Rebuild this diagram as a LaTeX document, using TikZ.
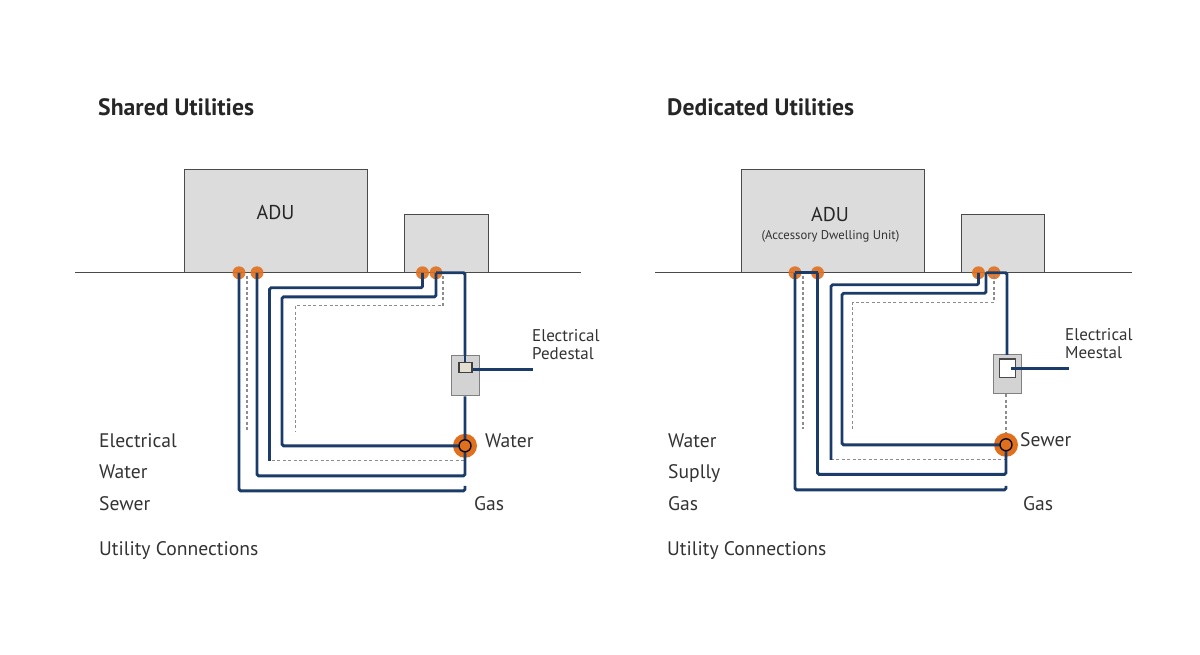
\documentclass[tikz,border=0pt]{standalone}
\usepackage{fontspec}
\setmainfont{PT Sans}
\definecolor{pipeblue}{HTML}{1B3C68}
\definecolor{portorange}{HTML}{E0701E}
\definecolor{boxgray}{HTML}{DCDCDC}
\definecolor{inkgray}{HTML}{4A4A4A}
\definecolor{meterbeige}{HTML}{E4DFD0}
\begin{document}
\begin{tikzpicture}[x=1pt,y=-1pt,
		building/.style={draw=inkgray,fill=boxgray,line width=1pt,inner sep=0pt},
		port/.style={circle,fill=portorange,inner sep=0pt,minimum size=13pt,opacity=0.9},
		junction/.style={circle,fill=portorange,inner sep=0pt,minimum size=24pt},
		ring/.style={circle,draw=black!80!pipeblue,fill=portorange,line width=1.4pt,inner sep=0pt,minimum size=12pt},
		pipe/.style={draw=pipeblue,line width=2.9pt,rounded corners=1.5pt},
		hidden/.style={draw=gray!90,line width=1.1pt,dash pattern=on 3pt off 2.4pt},
		ground/.style={draw=inkgray,line width=1pt},
		title/.style={font=\fontsize{23.7}{28}\selectfont\bfseries,anchor=base west,text=black!85,inner sep=0pt},
		label/.style={font=\fontsize{19.6}{22}\selectfont,anchor=base west,text=black!80,inner sep=0pt},
		small/.style={font=\fontsize{17}{18}\selectfont,align=left,anchor=west,text=black!80,inner sep=0pt}]
		\useasboundingbox (0,-0.8) rectangle (1200,654.2);
		% left panel: shared
		\node[title] (ltitle) at (98,115) {Shared Utilities};
		\coordinate (lg1) at (75,272);
		\coordinate (lg2) at (581,272);
		\node[building,minimum width=183pt,minimum height=103pt] (ladu) at (275.5,220.5) {};
		\node[building,minimum width=84pt,minimum height=58pt] (lhouse) at (446,243) {};
		\draw[ground] (lg1) -- (lg2);
		\node[font=\fontsize{20}{22}\selectfont,text=black!85] (laduname) at (275.5,212) {ADU};
		\foreach \x [count=\p] in {239,257,422.5,436} {
			\node[port] (lp\p) at (\x,272) {};
		};
		\node[building,draw=gray,fill=boxgray!90!gray,minimum width=27.5pt,minimum height=40pt] (lped) at (465.5,375) {};
		\node[junction] (ljoin) at (465,445) {};
		% hidden runs
		\coordinate (ld1) at (247,275);
		\coordinate (ld2) at (247,430);
		\coordinate (ld3) at (443,275);
		\coordinate (ld4) at (295.5,305);
		\coordinate (ld5) at (295.5,430);
		\coordinate (ld6) at (272,460);
		\draw[hidden] (ld1) -- (ld2);
		\draw[hidden] (ld3) |- (ld4) -- (ld5);
		\draw[hidden] (ld6) -- (ljoin |- ld6);
		% pipes
		\coordinate (lb1) at (465,490);
		\coordinate (lb1e) at (465,485);
		\coordinate (lb2) at (465,475);
		\coordinate (lb3a) at (269.5,287);
		\coordinate (lb3b) at (269.5,460);
		\coordinate (lb4a) at (282,296);
		\coordinate (lb4b) at (282,445);
		\coordinate (lout) at (533,368.5);
		\draw[pipe] (lp1.center) |- (lb1) -- (lb1e);
		\draw[pipe] (lp2.center) |- (lb2) -- (ljoin.center);
		\draw[pipe] (lp3.center) |- (lb3a) -- (lb3b);
		\draw[pipe] (lp4.center) |- (lb4a) -- (lb4b) -- (ljoin.center);
		\draw[pipe] (lp4.center) -| (ljoin.center |- lped.north) (lped.south -| ljoin) -- (ljoin.center);
		\draw[pipe] (ljoin.center |- lped.north) -- (465,362);
		\node[draw=black!75,line width=1.1pt,fill=meterbeige,minimum width=13pt,minimum height=10pt,inner sep=0pt] (lmeter) at (465.5,367) {};
		\draw[pipe] (lmeter.east |- lout) -- (lout);
		\node[ring] (lring) at (ljoin) {};
		\node[small] (lpedname) at (532,344) {Electrical\\Pedestal};
		\node[label] (lwater) at (485,447) {Water};
		\node[label] (lgas) at (474,510) {Gas};
		\node[label] (lk1) at (99,447) {Electrical};
		\node[label] (lk2) at (99,478) {Water};
		\node[label] (lk3) at (99,510) {Sewer};
		\node[label] (lcap) at (99,555) {Utility Connections};
		% right panel: dedicated
		\node[title] (rtitle) at (667,115) {Dedicated Utilities};
		\coordinate (rg1) at (655,272);
		\coordinate (rg2) at (1132,272);
		\node[building,minimum width=183pt,minimum height=103pt] (radu) at (832.5,220.5) {};
		\node[building,minimum width=83pt,minimum height=58pt] (rhouse) at (1002.5,243) {};
		\draw[ground] (rg1) -- (rg2);
		\node[font=\fontsize{20}{22}\selectfont,text=black!85] (raduname) at (830,214) {ADU};
		\node[font=\fontsize{12.7}{14}\selectfont,text=black!80] (radusub) at (830.5,236) {(Accessory Dwelling Unit)};
		\foreach \x [count=\p] in {795,817.5,978.5,994} {
			\node[port] (rp\p) at (\x,272) {};
		};
		\node[building,draw=gray,fill=boxgray!90!gray,minimum width=27.5pt,minimum height=39pt] (rped) at (1007.5,373.5) {};
		\node[junction] (rjoin) at (1006,444) {};
		% hidden runs
		\coordinate (rd1) at (803,275);
		\coordinate (rd2) at (803,428);
		\coordinate (rd3) at (994,275);
		\coordinate (rd4) at (852.5,301.5);
		\coordinate (rd5) at (852.5,428);
		\coordinate (rd6) at (831,459);
		\draw[hidden] (rd1) -- (rd2);
		\draw[hidden] (rd3) |- (rd4) -- (rd5);
		\draw[hidden] (rd6) -- (rjoin |- rd6);
		\draw[hidden] (rped.south -| rjoin) -- (rjoin.north);
		% pipes
		\coordinate (rb1) at (1006,489);
		\coordinate (rb1e) at (1006,485);
		\coordinate (rb2) at (1006,473.5);
		\coordinate (rb3a) at (831,284);
		\coordinate (rb3b) at (831,459);
		\coordinate (rb4s) at (986,272);
		\coordinate (rb4a) at (842,292.5);
		\coordinate (rb4b) at (842,444);
		\coordinate (rb5) at (1007,354);
		\coordinate (rin) at (1011,368);
		\coordinate (rout) at (1069,368);
		\draw[pipe] (rp1.center) |- (rb1) -- (rb1e);
		\draw[pipe] (rp2.center) |- (rb2) -- (rjoin.center);
		\draw[pipe] (rp1.center) -- (rp2.center);
		\draw[pipe] (rp3.center) |- (rb3a) -- (rb3b);
		\draw[pipe] (rb4s) |- (rb4a) -- (rb4b) -- (rjoin.center);
		\draw[pipe] (rb4s) -| (rb5);
		\node[draw=inkgray,line width=1.2pt,fill=white,minimum width=16pt,minimum height=18.5pt,inner sep=0pt] (rmeter) at (1007.5,367.5) {};
		\draw[pipe] (rin) -- (rout);
		\node[ring] (rring) at (rjoin) {};
		\node[small] (rpedname) at (1065,343) {Electrical\\Meestal};
		\node[label] (rsewer) at (1020,446) {Sewer};
		\node[label] (rgas) at (1023,510) {Gas};
		\node[label] (rk1) at (668,447) {Water};
		\node[label] (rk2) at (668,478) {Suplly};
		\node[label] (rk3) at (668,510) {Gas};
		\node[label] (rcap) at (667,555) {Utility Connections};
\end{tikzpicture}
\end{document}
